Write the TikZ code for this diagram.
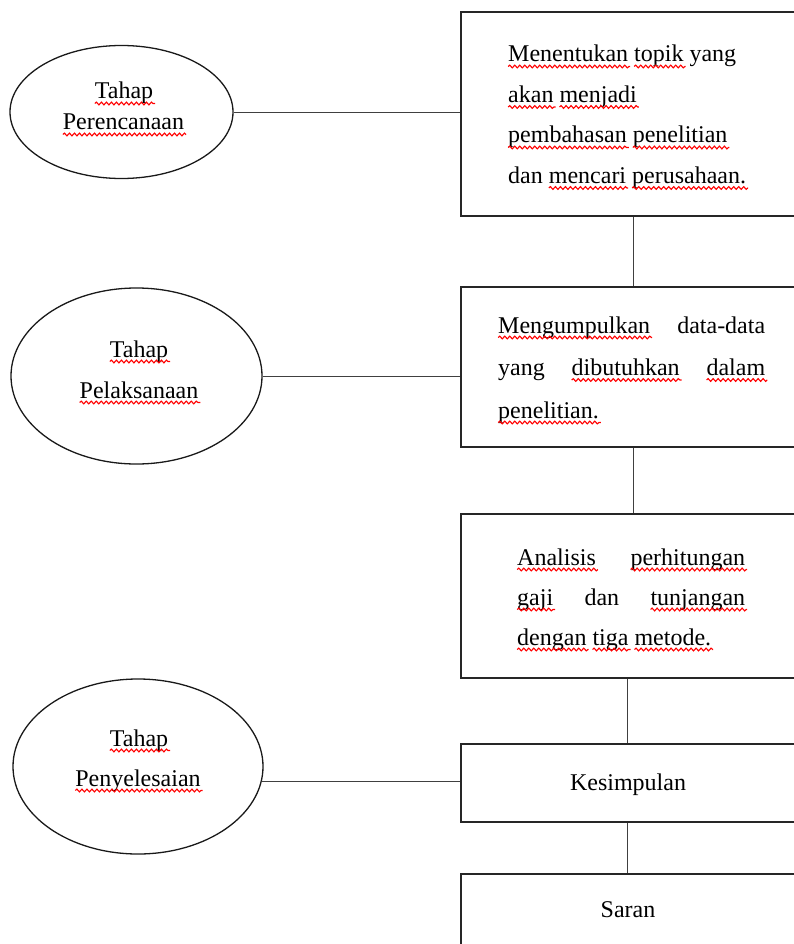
\documentclass[tikz,border=0pt]{standalone}
\usepackage{fontspec}
\setmainfont{Liberation Serif}
\usetikzlibrary{shapes.geometric,decorations.pathmorphing}
\newcommand\rw[1]{\tikz[baseline=(w.base),x=1pt,y=1pt]{\node[inner sep=0pt,outer sep=0pt] (w) {#1};\draw[overlay,red,line width=1.1pt,decorate,decoration={snake,amplitude=1.4pt,segment length=5pt}] ([yshift=-4.5pt]w.base west) -- ([yshift=-4.5pt,xshift=2pt]w.base east);}}
\begin{document}
\begin{tikzpicture}[x=1pt,y=-1pt,
  box/.style={draw=black!85, line width=1.6pt, rectangle, inner sep=0pt, minimum width=339pt},
  oval/.style={draw=black!90, line width=1.3pt, ellipse, inner sep=0pt},
  link/.style={draw=black!75, line width=0.9pt},
  txt/.style={inner sep=0pt, anchor=base west, font=\fontsize{24}{24}\selectfont},
  ctxt/.style={inner sep=0pt, anchor=base, font=\fontsize{24}{24}\selectfont}]
\useasboundingbox (0,0) rectangle (793,944);
% boxes
\node[box, minimum height=204pt] (b1) at (630.5,114) {};
\node[box, minimum height=160pt] (b2) at (630.5,367) {};
\node[box, minimum height=164pt] (b3) at (630.5,596) {};
\node[box, minimum height=78pt] (b4) at (630.5,783) {};
\node[box, minimum height=86pt] (b5) at (630.5,917) {};
% ellipses
\node[oval, minimum width=223pt, minimum height=133pt] (e1) at (121.5,112) {};
\node[oval, minimum width=251pt, minimum height=176pt] (e2) at (136.5,376) {};
\node[oval, minimum width=250pt, minimum height=175pt] (e3) at (138,766.5) {};
% ellipse texts
\node[ctxt] (e1a) at (124,99) {\rw{Tahap}};
\node[ctxt] (e1b) at (123.5,130) {\rw{Perencanaan}};
\node[ctxt] (e2a) at (139,357) {\rw{Tahap}};
\node[ctxt] (e2b) at (139,398) {\rw{Pelaksanaan}};
\node[ctxt] (e3a) at (139,746) {\rw{Tahap}};
\node[ctxt] (e3b) at (138,786) {\rw{Penyelesaian}};
% box texts
\node[txt] (t1) at (508,62) {\parbox[t]{270pt}{\raggedright\baselineskip=40.5pt
  \rw{Menentukan} \rw{topik} yang\\
  \rw{akan} \rw{menjadi}\\
  \rw{pembahasan} \rw{penelitian}\\
  dan \rw{mencari} \rw{perusahaan.}}};
\node[txt] (t2) at (498,333) {\parbox[t]{267pt}{\baselineskip=42.5pt
  \hbox to 267pt{\rw{Mengumpulkan}\hfill data-data}
  \hbox to 267pt{yang\hfill \rw{dibutuhkan}\hfill \rw{dalam}}
  \noindent\rw{penelitian.}}};
\node[txt] (t3) at (517,565) {\parbox[t]{228pt}{\baselineskip=40pt
  \hbox to 228pt{\rw{Analisis}\hfill \rw{perhitungan}}
  \hbox to 228pt{\rw{gaji}\hfill dan\hfill \rw{tunjangan}}
  \noindent\rw{dengan} \rw{tiga} \rw{metode.}}};
\node[ctxt] (t4) at (628,790) {Kesimpulan};
\node[ctxt] (t5) at (628,917) {Saran};
% connectors
\coordinate (va) at (633,0);
\coordinate (vb) at (627,0);
\draw[link] (e1.east) -- (e1.east -| b1.west);
\draw[link] (e2.east) -- (e2.east -| b2.west);
\draw[link] (e3.-7) -- (e3.-7 -| b4.west);
\draw[link] (b1.south -| va) -- (b2.north -| va);
\draw[link] (b2.south -| va) -- (b3.north -| va);
\draw[link] (b3.south -| vb) -- (b4.north -| vb);
\draw[link] (b4.south -| vb) -- (b5.north -| vb);
\end{tikzpicture}
\end{document}
